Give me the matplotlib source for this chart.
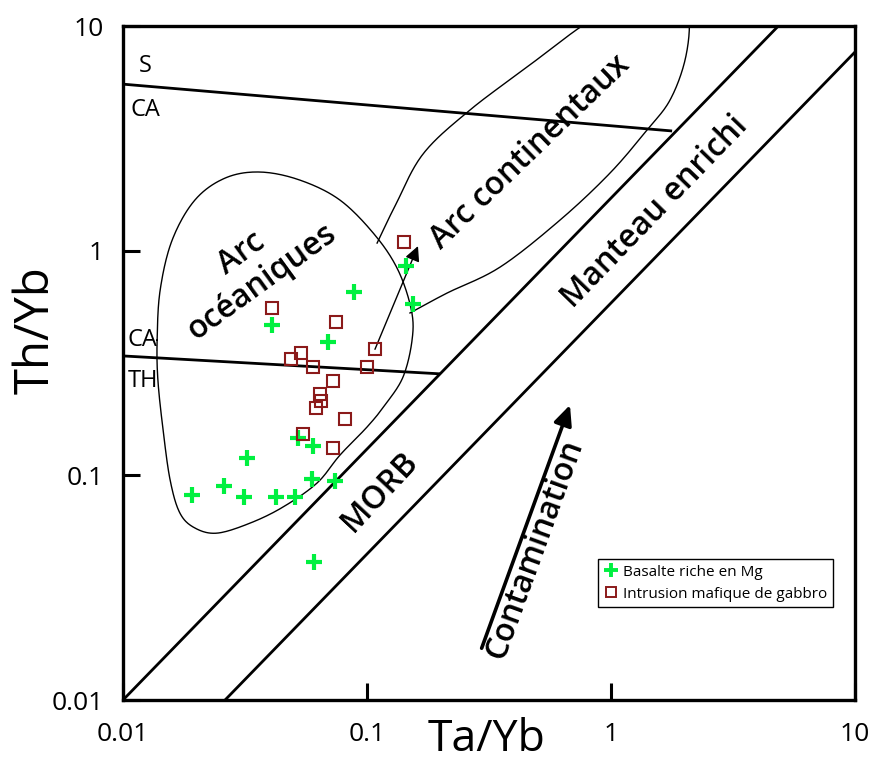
import numpy as np
import matplotlib
matplotlib.use("Agg")
import matplotlib.pyplot as plt
from matplotlib.lines import Line2D

plt.rcParams['font.family'] = ['Open Sans', 'DejaVu Sans']

# --- Sample data (Ta/Yb, Th/Yb) ---
basalt_ta_yb = [0.0887, 0.0409, 0.0690, 0.1445, 0.1548, 0.0321, 0.0520, 0.0599,
                0.0597, 0.0739, 0.0259, 0.0191, 0.0313, 0.0424, 0.0508, 0.0606]
basalt_th_yb = [0.656, 0.467, 0.391, 0.857, 0.578, 0.120, 0.146, 0.135,
                0.0960, 0.0946, 0.0899, 0.0817, 0.0798, 0.0798, 0.0798, 0.0411]

gabbro_ta_yb = [0.1418, 0.0409, 0.0746, 0.0535, 0.0487, 0.0599, 0.1078, 0.1003,
                0.0728, 0.0640, 0.0650, 0.0620, 0.0812, 0.0548, 0.0728]
gabbro_th_yb = [1.089, 0.554, 0.480, 0.351, 0.329, 0.302, 0.364, 0.302,
                0.263, 0.229, 0.2135, 0.199, 0.179, 0.153, 0.132]

# --- Field boundaries ---
s_ca_x = [0.01, 1.78]
s_ca_y = [5.51, 3.41]
ca_th_x = [0.01, 0.199]
ca_th_y = [0.340, 0.283]
morb_upper_x = [0.01, 4.85]
morb_upper_y = [0.01, 10.0]
morb_lower_x = [0.0262, 10.0]
morb_lower_y = [0.01, 7.66]

oceanic_x = [0.0138, 0.0142, 0.0159, 0.0197, 0.0262, 0.0364, 0.0531, 0.0775,
             0.1078, 0.134, 0.152, 0.153, 0.1405, 0.1185, 0.100, 0.0775,
             0.0624, 0.0453, 0.0332, 0.0243, 0.0197, 0.0171, 0.0156, 0.0146, 0.0139]
oceanic_y = [0.400, 0.668, 1.114, 1.679, 2.104, 2.239, 2.061, 1.679,
             1.173, 0.820, 0.544, 0.400, 0.274, 0.2056, 0.164, 0.1231,
             0.0924, 0.0723, 0.0613, 0.0553, 0.0583, 0.0680, 0.0953, 0.159, 0.2655]

continental_x = [0.110, 0.131, 0.170, 0.264, 0.453, 0.760, 1.0385, 1.445, 1.882,
                 2.088, 2.011, 1.745, 1.404, 0.9906, 0.618, 0.351, 0.2128, 0.150]
continental_y = [1.081, 1.60, 2.70, 4.224, 6.564, 10.0, 12.02, 13.04, 12.77,
                 10.62, 7.05, 4.68, 3.441, 2.215, 1.368, 0.845, 0.6475, 0.528]

trend_start = (0.1078, 0.3638)
trend_end = (0.1618, 1.048)
contam_start = (0.295, 0.0170)
contam_end = (0.679, 0.2056)

x_ticks = [0.01, 0.1, 1, 10]
x_tick_labels = ['0.01', '0.1', '1', '10']
y_ticks = [0.01, 0.1, 1, 10]
y_tick_labels = ['0.01', '0.1', '1', '10']


def catmull_rom(xs, ys, closed=False, n=20):
    """Smooth a poly-line in log space with a Catmull-Rom spline."""
    px = np.log10(np.asarray(xs, float))
    py = np.log10(np.asarray(ys, float))
    pts = np.column_stack([px, py])
    if closed:
        pts = np.vstack([pts[-1], pts, pts[0], pts[1]])
    else:
        pts = np.vstack([2 * pts[0] - pts[1], pts, 2 * pts[-1] - pts[-2]])
    out = []
    t = np.linspace(0, 1, n, endpoint=False)[:, None]
    for i in range(1, len(pts) - 2):
        p0, p1, p2, p3 = pts[i - 1], pts[i], pts[i + 1], pts[i + 2]
        seg = 0.5 * ((2 * p1) + (-p0 + p2) * t + (2 * p0 - 5 * p1 + 4 * p2 - p3) * t ** 2
                     + (-p0 + 3 * p1 - 3 * p2 + p3) * t ** 3)
        out.append(seg)
    out.append(pts[-2][None, :])
    out = np.vstack(out)
    return 10 ** out[:, 0], 10 ** out[:, 1]


fig = plt.figure(figsize=(8.72, 7.66), dpi=100)
ax = fig.add_axes([123 / 872, 1 - 700 / 766, 732 / 872, 674 / 766])
ax.set_xscale('log')
ax.set_yscale('log')
ax.set_xlim(0.01, 10)
ax.set_ylim(0.01, 10)

field_kw = dict(color='black', lw=2.0, solid_capstyle='butt')
ax.plot(s_ca_x, s_ca_y, **field_kw)
ax.plot(ca_th_x, ca_th_y, **field_kw)
ax.plot(morb_upper_x, morb_upper_y, **field_kw)
ax.plot(morb_lower_x, morb_lower_y, **field_kw)

ox, oy = catmull_rom(oceanic_x, oceanic_y, closed=True)
ax.plot(ox, oy, color='black', lw=1.0)
cx, cy = catmull_rom(continental_x, continental_y, closed=False)
ax.plot(cx, cy, color='black', lw=1.0)

# Trend arrows
ax.annotate('', xy=trend_end, xytext=trend_start,
            arrowprops=dict(arrowstyle='-|>,head_length=0.9,head_width=0.45',
                            color='black', lw=1.0, shrinkA=0, shrinkB=0))
ax.annotate('', xy=contam_end, xytext=contam_start,
            arrowprops=dict(arrowstyle='-|>,head_length=1.2,head_width=0.55',
                            color='black', lw=2.6, shrinkA=0, shrinkB=0))

ax.plot(basalt_ta_yb, basalt_th_yb, linestyle='none', marker='+', ms=11, mew=3,
        color='#00f040', zorder=5)
ax.plot(gabbro_ta_yb, gabbro_th_yb, linestyle='none', marker='s', ms=8, mew=1.5,
        mfc='none', mec='#8b1a1a', zorder=5)

# Field labels
lab_kw = dict(transform=ax.transAxes, ha='center', va='center',
              rotation_mode='anchor', fontweight='semibold', color='black',
              fontsize=23)
ax.text(0.176, 0.641, 'Arc\nocéaniques', rotation=36, linespacing=1.1, **lab_kw)
ax.text(0.556, 0.813, 'Arc continentaux', rotation=44, **lab_kw)
ax.text(0.727, 0.724, 'Manteau enrichi', rotation=46, **lab_kw)
ax.text(0.351, 0.309, 'MORB', rotation=47, **lab_kw)
ax.text(0.563, 0.223, 'Contamination', rotation=70, **lab_kw)

small_kw = dict(transform=ax.transAxes, ha='center', va='center', fontsize=17)
ax.text(0.030, 0.941, 'S', **small_kw)
ax.text(0.031, 0.875, 'CA', **small_kw)
ax.text(0.027, 0.534, 'CA', **small_kw)
ax.text(0.027, 0.473, 'TH', **small_kw)

ax.set_xticks(x_ticks)
ax.set_xticklabels(x_tick_labels)
ax.set_yticks(y_ticks)
ax.set_yticklabels(y_tick_labels)
ax.minorticks_off()
ax.tick_params(direction='in', length=12, width=2.2, labelsize=19, pad=16)
ax.tick_params(axis='y', pad=14)
for sp in ax.spines.values():
    sp.set_linewidth(2.4)

fig.text(487 / 872, 1 - 740 / 766, 'Ta/Yb', ha='center', va='center', fontsize=32)
fig.text(36 / 872, 1 - 330 / 766, 'Th/Yb', ha='center', va='center', fontsize=34,
         rotation=90)

handles = [
    Line2D([], [], linestyle='none', marker='+', ms=10, mew=2.8, color='#00f040'),
    Line2D([], [], linestyle='none', marker='s', ms=7.5, mew=1.4, mfc='none', mec='#8b1a1a'),
]
leg = ax.legend(handles, ['Basalte riche en Mg', 'Intrusion mafique de gabbro'],
                loc='lower left', bbox_to_anchor=(0.649, 0.138), fontsize=11,
                frameon=True, fancybox=False, edgecolor='black', framealpha=1,
                handletextpad=0.3, handlelength=1.0, borderpad=0.35,
                labelspacing=0.45, borderaxespad=0)
leg.get_frame().set_linewidth(1.0)

fig.savefig('out.png', dpi=100)
